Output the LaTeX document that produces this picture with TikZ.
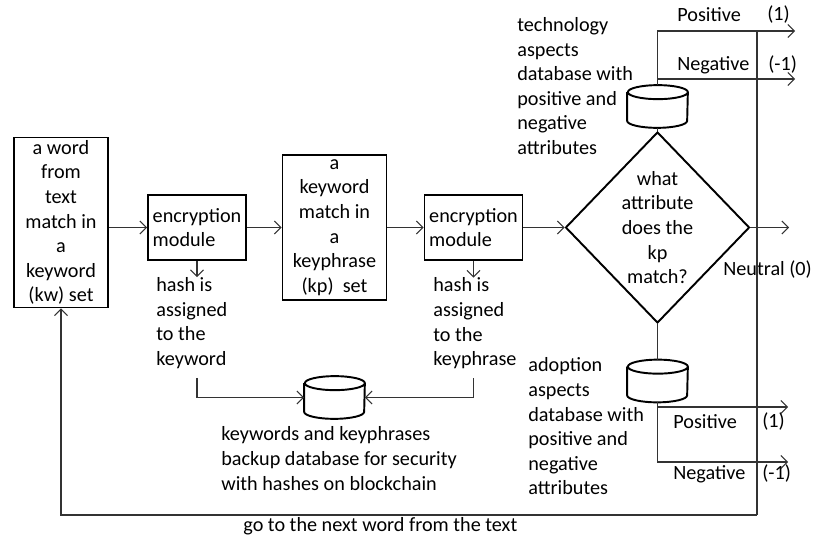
\documentclass[tikz,border=0pt]{standalone}
\usepackage{fontspec}
\setmainfont{Carlito}
\usetikzlibrary{shapes,arrows.meta,positioning}

% outline of a database drum around a named node
\newcommand{\dbdraw}[1]{%
  \draw [line width=1.1pt] ([yshift=-1.4mm]#1.north west) -- ([yshift=1.4mm]#1.south west)
    arc [start angle=180, end angle=360, x radius=6mm, y radius=1.4mm]
    -- ([yshift=-1.4mm]#1.north east)
    arc [start angle=0, end angle=360, x radius=6mm, y radius=1.4mm];}

\begin{document}
\begin{tikzpicture}[node distance=2.75cm, auto, font=\fontsize{11.5}{14}\selectfont]

% Define styles
\tikzstyle{box} = [rectangle, draw, line width=1.1pt, align=center, inner sep=0pt]
\tikzstyle{module} = [rectangle, draw, line width=1.1pt, align=left, minimum width=1.96cm, minimum height=1.3cm, inner sep=0pt]
\tikzstyle{decision} = [diamond, draw, line width=1.1pt, align=center, inner sep=-5pt, minimum width=3.68cm, minimum height=3.82cm]
\tikzstyle{db} = [rectangle, minimum width=1.2cm, minimum height=0.84cm, inner sep=0pt]
\tikzstyle{note} = [align=left, inner sep=0pt]
\tikzstyle{arrow} = [draw=black!80, line width=0.6pt, -{Straight Barb[length=1.3mm,width=2.6mm]}]
\tikzstyle{line} = [draw=black!80, line width=0.6pt]

\useasboundingbox (0,0) rectangle (16.28,10.8);

% Nodes
\node [box, minimum width=1.88cm, minimum height=3.4cm] (word) at (1.22,6.35) {a word\\from\\text\\match in\\a\\keyword\\(kw) set};
\node [module] (enc1) at (3.94,6.25) {encryption\\module};
\node [box, right of=enc1, minimum width=2.08cm, minimum height=2.9cm] (phrase) {a\\keyword\\match in\\a\\keyphrase\\(kp)~~set};
\node [module, right of=phrase, node distance=2.78cm] (enc2) {encryption\\module};
\node [decision, right of=enc2, node distance=3.68cm] (attr) {what\\attribute\\does the\\kp\\match?};

% Databases
\node [db, above of=attr, node distance=2.42cm] (techdb) {};
\node [db, below of=attr, node distance=3.07cm] (adoptdb) {};
\node [db, below of=phrase, node distance=3.4cm] (backup) {};
\dbdraw{techdb}
\dbdraw{adoptdb}
\dbdraw{backup}

% Text beside the boxes
\node [note, anchor=west] (technote) at (10.34,9.08) {technology\\aspects\\database with\\positive and\\negative\\attributes};
\node [note, anchor=west] (adoptnote) at (10.56,2.27) {adoption\\aspects\\database with\\positive and\\negative\\attributes};
\node [note, anchor=west] (hash1) at (3.12,4.34) {hash is\\assigned\\to the\\keyword};
\node [note, anchor=west] (hash2) at (8.66,4.33) {hash is\\assigned\\to the\\keyphrase};
\node [note, anchor=west] (backupnote) at (4.42,1.63) {keywords and keyphrases\\backup database for security\\with hashes on blockchain};
\node [note, anchor=west] (next) at (4.86,0.28) {go to the next word from the text};

% Outcome labels
\node [note, anchor=west] (posT) at (13.54,10.5) {Positive};
\node [note, anchor=west] (posTval) at (15.34,10.5) {(1)};
\node [note, anchor=west] (negT) at (13.54,9.5) {Negative};
\node [note, anchor=west] (negTval) at (15.36,9.5) {(-1)};
\node [note, anchor=west] (neutral) at (14.46,5.4) {Neutral (0)};
\node [note, anchor=west] (posB) at (13.46,2.36) {Positive};
\node [note, anchor=west] (posBval) at (15.24,2.36) {(1)};
\node [note, anchor=west] (negB) at (13.46,1.32) {Negative};
\node [note, anchor=west] (negBval) at (15.24,1.32) {(-1)};

% Loose ends
\coordinate (posEnd) at (15.9,10.18);
\coordinate (negEnd) at (15.9,9.22);
\coordinate (neuEnd) at (15.78,6.25);
\coordinate (posEndB) at (15.76,2.66);
\coordinate (negEndB) at (15.76,1.56);
\coordinate (loopTop) at (15.14,10.18);
\coordinate (loopBot) at (15.14,0.5);

% Arrows
\draw [arrow] (word.east |- enc1) -- (enc1);
\draw [arrow] (enc1) -- (phrase);
\draw [arrow] (phrase) -- (enc2);
\draw [arrow] (enc2) -- (attr);
\draw [arrow] (attr) -- (neuEnd);

\draw [line] (attr) -- (techdb);
\draw [line] (attr) -- (adoptdb);
\draw [arrow] (techdb.north) |- (posEnd);
\draw [arrow] (techdb.north) |- (negEnd);
\draw [arrow] (adoptdb.south) |- (posEndB);
\draw [arrow] (adoptdb.south) |- (negEndB);

\draw [arrow] (enc1) -- (enc1 |- hash1.north);
\draw [arrow] (enc2) -- (enc2 |- hash2.north);
\draw [arrow] ([yshift=-0.18cm]hash1.south -| enc1) |- (backup);
\draw [arrow] ([yshift=-0.18cm]hash2.south -| enc2) |- (backup);

\draw [line] (loopTop) -- (loopBot);
\draw [arrow] (loopBot) -| (word);

\end{tikzpicture}
\end{document}
